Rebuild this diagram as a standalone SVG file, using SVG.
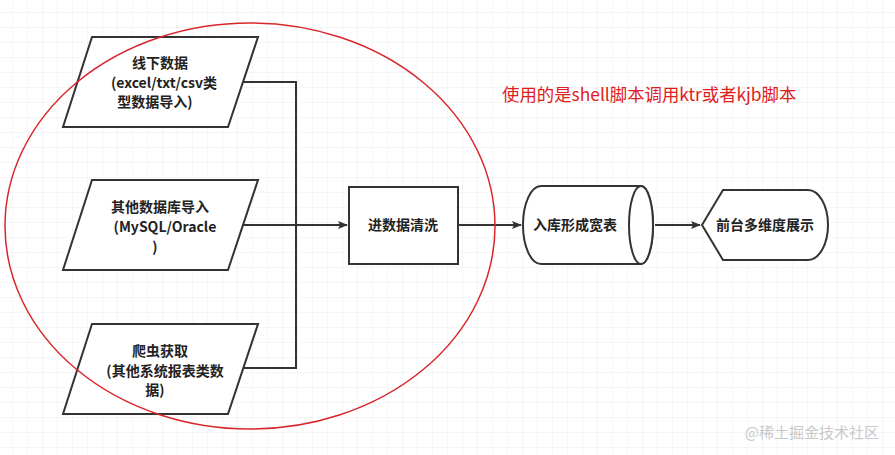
<svg xmlns="http://www.w3.org/2000/svg" width="895" height="455" viewBox="0 0 895 455">
<defs>
<pattern id="g" width="15" height="15" patternUnits="userSpaceOnUse" x="-2" y="-2"><path d="M15 0V15H0" fill="none" stroke="#ececec" stroke-width="1"/></pattern>
<marker id="a" markerWidth="10" markerHeight="8" refX="9" refY="4" orient="auto" markerUnits="userSpaceOnUse"><path d="M0 0L10 4L0 8L2 4z" fill="#333"/></marker>
<style>
.s{fill:#fff;stroke:#333;stroke-width:2}
.t{font-family:"Noto Sans CJK SC","Liberation Sans",sans-serif;font-size:14px;font-weight:bold;fill:#222;text-anchor:middle}
.c{fill:none;stroke:#333;stroke-width:2}
</style>
</defs>
<rect width="895" height="455" fill="#fff"/>
<rect width="895" height="455" fill="url(#g)"/>
<g id="n1"><path class="s" d="M92 37H258L228 127H63Z"/><text class="t" x="160" y="68">线下数据</text><text class="t" x="164" y="88">(excel/txt/csv类</text><text class="t" x="155" y="107">型数据导入)</text></g>
<g id="n2"><path class="s" d="M92 180H258L228 270H63Z"/><text class="t" x="160" y="212">其他数据库导入</text><text class="t" x="165" y="232">(MySQL/Oracle</text><text class="t" x="155" y="252">)</text></g>
<g id="n3"><path class="s" d="M92 324H258L228 414H63Z"/><text class="t" x="160" y="356">爬虫获取</text><text class="t" x="165" y="376">(其他系统报表类数</text><text class="t" x="155" y="395">据)</text></g>
<g id="n4"><rect class="s" x="349" y="187" width="109" height="77"/><text class="t" x="403" y="230">进数据清洗</text></g>
<g id="n5"><path class="s" d="M541 186H641A12 39 0 0 1 641 264H541A18 39 0 0 1 523 225A18 39 0 0 1 541 186Z"/><ellipse class="s" cx="641" cy="225" rx="12" ry="39"/><text class="t" x="575" y="230">入库形成宽表</text></g>
<g id="n6"><path class="s" d="M723 190H808A20 35 0 0 1 828 225A20 35 0 0 1 808 260H723L702 225Z"/><text class="t" x="765" y="230">前台多维度展示</text></g>
<g id="connectors">
<path class="c" d="M243 82H296V368H243"/>
<path class="c" d="M243 225H347" marker-end="url(#a)"/>
<path class="c" d="M458 225H521" marker-end="url(#a)"/>
<path class="c" d="M655 225H700" marker-end="url(#a)"/>
</g>
<ellipse cx="250" cy="226" rx="245" ry="203" fill="none" stroke="#d9262b" stroke-width="1.5"/>
<text x="502" y="101" font-family="Noto Sans CJK SC,Liberation Sans,sans-serif" font-size="17.4" fill="#e02020">使用的是shell脚本调用ktr或者kjb脚本</text>
<text x="879" y="438" text-anchor="end" font-family="Noto Sans CJK SC,Liberation Sans,sans-serif" font-size="15" fill="#c8c8c8">@稀土掘金技术社区</text>
</svg>
